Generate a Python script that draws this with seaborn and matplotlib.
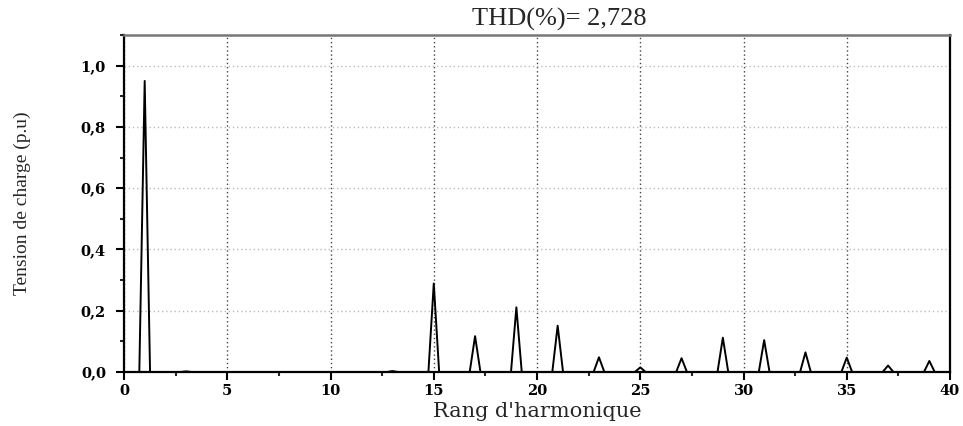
import matplotlib
matplotlib.use("Agg")
import matplotlib.pyplot as plt
import numpy as np
import pandas as pd
import seaborn as sns
from matplotlib.ticker import MultipleLocator

# harmonic spectrum
orders = [1, 3, 13, 15, 17, 19, 21, 23, 25, 27, 29, 31, 33, 35, 37, 39]
amplitudes = [0.95, 0.002, 0.003, 0.289, 0.117, 0.211, 0.151, 0.048, 0.015,
              0.045, 0.112, 0.104, 0.064, 0.047, 0.021, 0.036]
x_ticks = [0, 5, 10, 15, 20, 25, 30, 35, 40]
x_tick_labels = ["0", "5", "10", "15", "20", "25", "30", "35", "40"]
y_ticks = [0.0, 0.2, 0.4, 0.6, 0.8, 1.0]
y_tick_labels = ["0,0", "0,2", "0,4", "0,6", "0,8", "1,0"]
title_text = "THD(%)= 2,728"

# each harmonic is drawn as a narrow triangle on the zero line
half_width = 0.26
xs, ys = [0.0], [0.0]
for h, a in zip(orders, amplitudes):
    xs += [h - half_width, h, h + half_width]
    ys += [0.0, a, 0.0]
xs.append(40.0)
ys.append(0.0)
df = pd.DataFrame({"rang": xs, "tension": ys})

sns.set_style("ticks")
plt.rcParams["font.family"] = ["Liberation Serif", "DejaVu Serif"]

fig = plt.figure(figsize=(9.63, 4.26), dpi=100)
ax = fig.add_axes([0.1288, 0.1268, 0.8577, 0.791])

sns.lineplot(data=df, x="rang", y="tension", sort=False, estimator=None,
             color="black", linewidth=1.4, ax=ax)

ax.set_xlim(0, 40)
ax.set_ylim(0, 1.1)
ax.set_xticks(x_ticks)
ax.set_xticklabels(x_tick_labels)
ax.set_yticks(y_ticks)
ax.set_yticklabels(y_tick_labels)
for lab in ax.get_xticklabels() + ax.get_yticklabels():
    lab.set_fontfamily("DejaVu Serif")
    lab.set_fontweight("bold")
    lab.set_fontsize(10.5)
ax.xaxis.set_minor_locator(MultipleLocator(2.5))
ax.yaxis.set_minor_locator(MultipleLocator(0.1))
ax.tick_params(axis="both", which="major", direction="out", length=6,
               width=1.5, colors="black")
ax.tick_params(axis="y", which="major", pad=7)
ax.tick_params(axis="x", which="major", pad=3)
ax.tick_params(axis="both", which="minor", direction="out", length=3,
               width=1.5)

ax.grid(axis="x", which="major", linestyle=(0, (1, 2)), color="#444444",
        linewidth=1.0)
ax.grid(axis="y", which="major", linestyle=(0, (1, 2)), color="#bbbbbb",
        linewidth=1.0)

for side in ["left", "bottom", "right"]:
    ax.spines[side].set_color("black")
    ax.spines[side].set_linewidth(1.6)
ax.spines["top"].set_color("#777777")
ax.spines["top"].set_linewidth(1.8)

ax.set_xlabel("Rang d'harmonique", fontsize=15, family="DejaVu Serif")
ax.xaxis.set_label_coords(0.5, -0.09)
ax.set_ylabel("Tension de charge (p.u)", fontsize=14, labelpad=36)
fig.text(0.581, 0.955, title_text, ha="center", va="center", fontsize=19)

fig.savefig("out.png", dpi=100)
